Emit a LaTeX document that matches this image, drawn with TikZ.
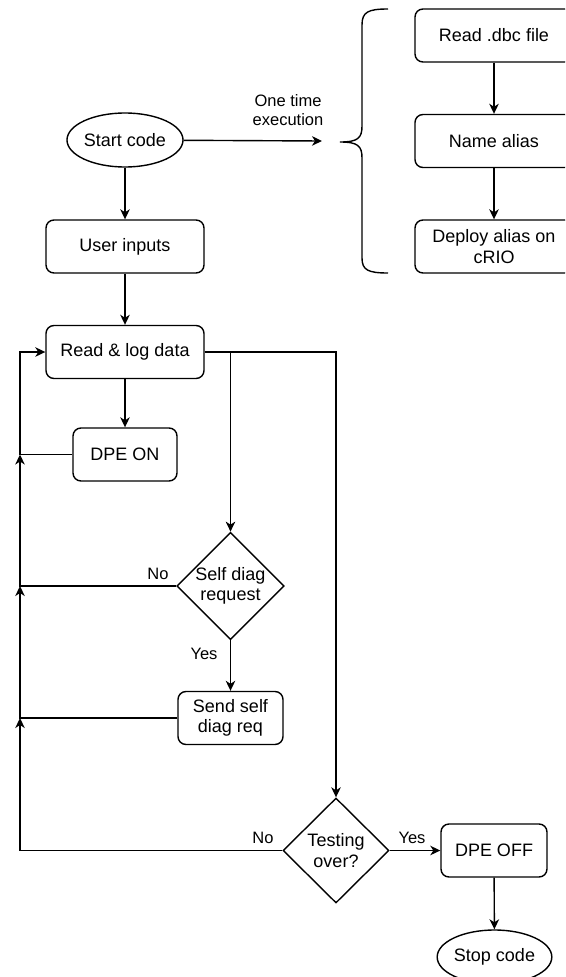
\documentclass[tikz,border=0pt]{standalone}
\usepackage{fontspec}
\setmainfont{Liberation Sans}
\usetikzlibrary{shapes.geometric,arrows.meta}
\begin{document}
\begin{tikzpicture}[x=1pt,y=-1pt,
  every node/.style={font=\fontsize{18}{20.5}\selectfont, align=center, inner sep=0pt},
  box/.style={draw, line width=1.4pt, rounded corners=8pt, minimum width=#1, minimum height=53pt},
  box/.default=158pt,
  oval/.style={draw, line width=1.4pt, ellipse, minimum width=106pt, minimum height=54pt},
  dia/.style={draw, line width=1.4pt, diamond, minimum width=106pt, minimum height=105pt},
  lbl/.style={font=\fontsize{16.5}{18.5}\selectfont},
  arr/.style={line width=1.4pt, -{Stealth[length=10pt,width=9.5pt,inset=3pt]}},
  ln/.style={line width=1.4pt}]
\useasboundingbox (0,0) rectangle (565,977);
\clip (0,0) rectangle (565,977);
% main column
\node[oval] (start) at (125,140) {Start code};
\node[box] (user) at (125,246.5) {User inputs};
\node[box] (readlog) at (125,352) {Read \& log data};
\node[box=104pt] (dpeon) at (125,454.5) {DPE ON};
\node[dia] (diam1) at (230.5,586) {Self diag\\request};
\node[box=105pt] (send) at (230.5,718) {Send self\\diag req};
\node[dia] (diam2) at (336,850.5) {Testing\\over?};
\node[box=106pt] (dpeoff) at (494,850.5) {DPE OFF};
\node[oval, minimum width=105pt] (stop) at (494.5,957) {Stop code};
% one-time branch
\node[box] (dbc) at (494,35.5) {Read .dbc file};
\node[box] (alias) at (494,141) {Name alias};
\node[box] (deploy) at (494,246.5) {Deploy alias on\\cRIO};
% brace
\coordinate (tip) at (340,142);
\coordinate (arrend) at (322,141);
\draw[ln] (388,9) .. controls (368,9) and (362,12) .. (362,25) -- (362,126)
  .. controls (362,138) and (358,142) .. (tip)
  .. controls (358,142) and (362,146) .. (362,158) -- (362,258)
  .. controls (362,270) and (368,273) .. (388,273);
% connectors
\draw[arr] (start) -- (arrend);
\node[lbl] (onetime) at (288,110) {One time\\execution};
\draw[arr] (start) -- (user);
\draw[arr] (user) -- (readlog);
\draw[arr] (readlog) -- (dpeon);
\draw[arr] (dbc) -- (alias);
\draw[arr] (alias) -- (deploy);
\draw[arr] (readlog.east) -| (diam1.north);
\draw[arr] (readlog.east) -| (diam2.north);
\draw[arr] (diam1) -- (send);
\node[lbl] (yes1) at (204,654) {Yes};
\draw[arr] (diam2) -- (dpeoff);
\node[lbl] (yes2) at (412,838) {Yes};
\draw[arr] (dpeoff) -- (stop);
% feedback
\coordinate (j1) at (20,454.5);
\coordinate (j2) at (20,586);
\coordinate (j3) at (20,718);
\coordinate (j4) at (20,850.5);
\draw[arr] (dpeon.west) -- (j1) |- (readlog.west);
\draw[arr] (diam1.west) -- (j2) -- (j1);
\node[lbl] (no1) at (158,574) {No};
\draw[arr] (send.west) -- (j3) -- (j2);
\draw[arr] (diam2.west) -- (j4) -- (j3);
\node[lbl] (no2) at (263,838) {No};
\end{tikzpicture}
\end{document}
